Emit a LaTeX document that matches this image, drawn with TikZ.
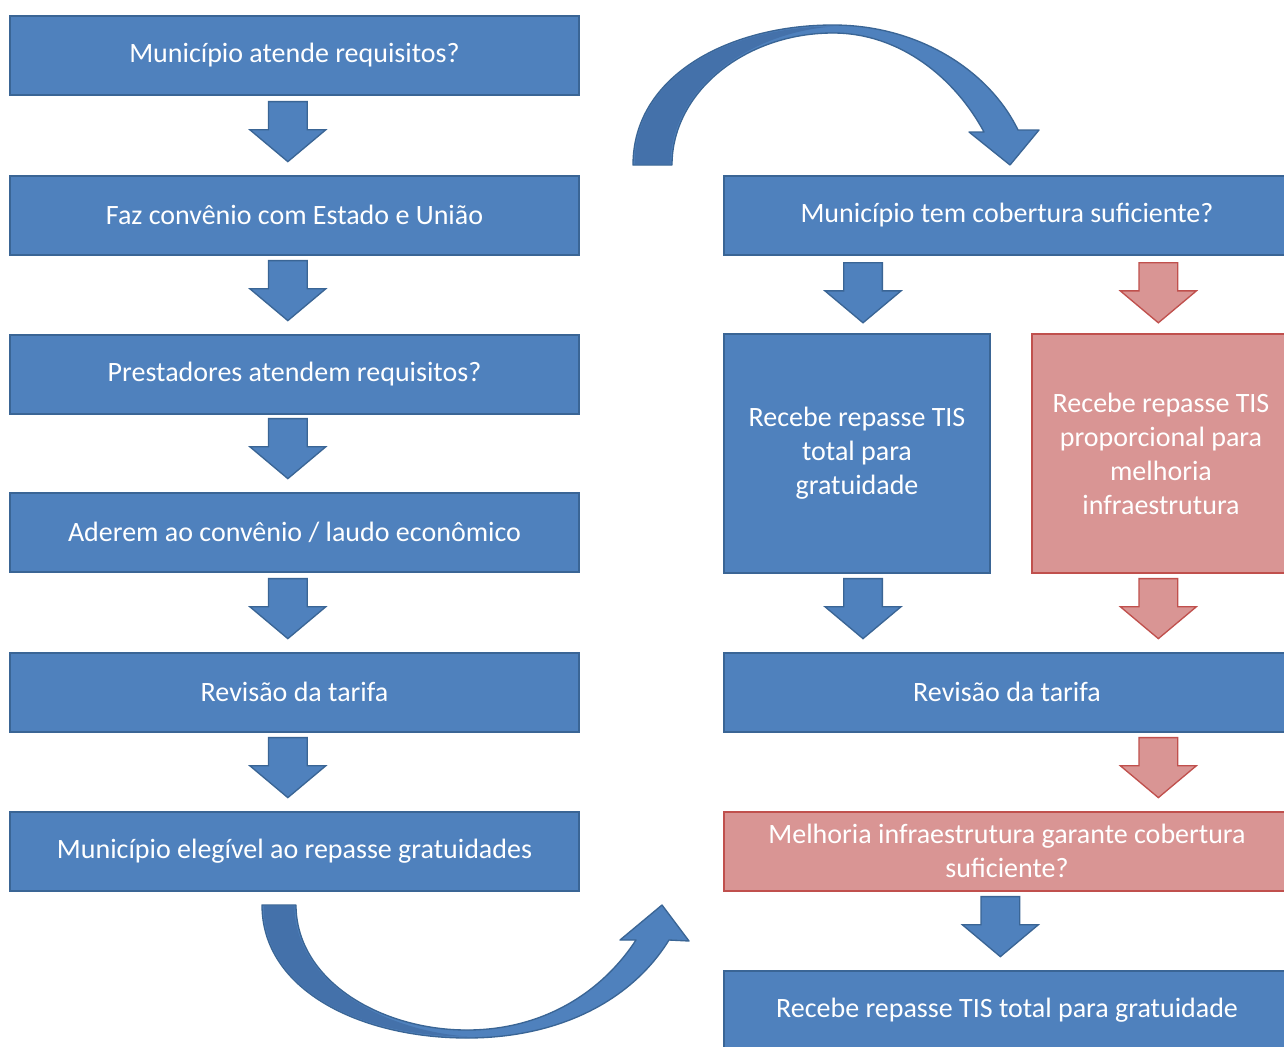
\documentclass[tikz,border=0pt]{standalone}
\usepackage{fontspec}
\setmainfont{Carlito}
\usetikzlibrary{shapes.arrows,calc}
\definecolor{bfill}{HTML}{4F81BD}
\definecolor{bdraw}{HTML}{3A6595}
\definecolor{bdark}{HTML}{4471AA}
\definecolor{rfill}{HTML}{D99594}
\definecolor{rdraw}{HTML}{C0504D}
\begin{document}
\begin{tikzpicture}[x=0.75pt,y=-0.75pt,
 box/.style={draw=bdraw,fill=bfill,line width=1.5pt,text=white,font=\fontsize{21}{25.5}\selectfont,align=center,inner sep=0pt,minimum height=59.25pt},
 rbox/.style={box,draw=rdraw,fill=rfill},
 darrow/.style={single arrow,shape border rotate=270,draw=bdraw,fill=bfill,line width=1pt,inner sep=14pt,single arrow head extend=14pt,single arrow tip angle=100,minimum height=45pt,anchor=tip},
 rarrow/.style={darrow,draw=rdraw,fill=rfill},
 curved/.style={fill=bfill,draw=bdraw,line width=1pt,line join=round},
 curvedshade/.style={fill=bdark}]
\useasboundingbox (0,0) rectangle (1284,1046);
\clip (0,0) rectangle (1284,1046);
\fill[white] (0,0) rectangle (1284,1046);
% left column
\node[box,minimum width=426.75pt] (l1) at (294.5,55) {Município atende requisitos?};
\node[box,minimum width=426.75pt] (l2) at (294.5,215) {Faz convênio com Estado e União};
\node[box,minimum width=426.75pt] (l3) at (294.5,374) {Prestadores atendem requisitos?};
\node[box,minimum width=426.75pt] (l4) at (294.5,532) {Aderem ao convênio / laudo econômico};
\node[box,minimum width=426.75pt] (l5) at (294.5,692) {Revisão da tarifa};
\node[box,minimum width=426.75pt] (l6) at (294.5,851) {Município elegível ao repasse gratuidades};
% right column
\node[box,minimum width=424.5pt] (r1) at (1007,215) {Município tem cobertura suficiente?};
\node[box,minimum width=199.5pt,minimum height=179.25pt] (r2) at (857,453.5) {Recebe repasse TIS\\total para\\gratuidade};
\node[rbox,minimum width=193.5pt,minimum height=179.25pt] (r3) at (1161,453.5) {Recebe repasse TIS\\proporcional para\\melhoria\\infraestrutura};
\node[box,minimum width=424.5pt] (r4) at (1007,692) {Revisão da tarifa};
\node[rbox,minimum width=424.5pt] (r5) at (1007,851) {Melhoria infraestrutura garante cobertura\\suficiente?};
\node[box,minimum width=424.5pt] (r6) at (1007,1010) {Recebe repasse TIS total para gratuidade};
% block arrows (tip just above the next box)
\node[darrow] (a1) at ([xshift=-5pt,yshift=9pt]l2.north) {};
\node[darrow] (a2) at ([xshift=-5pt,yshift=9pt]l3.north) {};
\node[darrow] (a3) at ([xshift=-5pt,yshift=9pt]l4.north) {};
\node[darrow] (a4) at ([xshift=-5pt,yshift=9pt]l5.north) {};
\node[darrow] (a5) at ([xshift=-5pt,yshift=9pt]l6.north) {};
\node[darrow] (a6) at ([xshift=4.5pt,yshift=7pt]r2.north) {};
\node[rarrow] (a7) at ([xshift=-2pt,yshift=7pt]r3.north) {};
\node[darrow] (a8) at ([xshift=4.5pt,yshift=9pt]r2.north |- r4.north) {};
\node[rarrow] (a9) at ([xshift=-2pt,yshift=9pt]r3.north |- r4.north) {};
\node[rarrow] (a10) at ([xshift=-2pt,yshift=9pt]r3.north |- r5.north) {};
\node[darrow] (a11) at ([xshift=-5pt,yshift=9pt]r6.north) {};
% curved arrow top
\path[curved] (633,165) .. controls (633,75) and (730,25) .. (833,25)
  .. controls (920,25) and (990,72) .. (1018,130) -- (1039,130) -- (1010,165) -- (969,132) -- (984,132)
  .. controls (955,78) and (900,33) .. (833,33)
  .. controls (745,33) and (672,92) .. (672,165) -- cycle;
\fill[curvedshade] (634.5,164) .. controls (634.5,75) and (730,26.5) .. (833,26.5)
  .. controls (745,33) and (670.5,92) .. (670.5,164) -- cycle;
% curved arrow bottom
\path[curved] (262,905) .. controls (262,990) and (360,1038) .. (467,1038)
  .. controls (560,1038) and (632,1000) .. (669,940) -- (689,941) -- (662,905) -- (620,940) -- (636,940)
  .. controls (600,995) and (540,1030) .. (467,1030)
  .. controls (380,1030) and (296,980) .. (296,905) -- cycle;
\fill[curvedshade] (263.5,906) .. controls (263.5,990) and (360,1036.5) .. (467,1036.5)
  .. controls (380,1030) and (294.5,980) .. (294.5,906) -- cycle;
\end{tikzpicture}
\end{document}
